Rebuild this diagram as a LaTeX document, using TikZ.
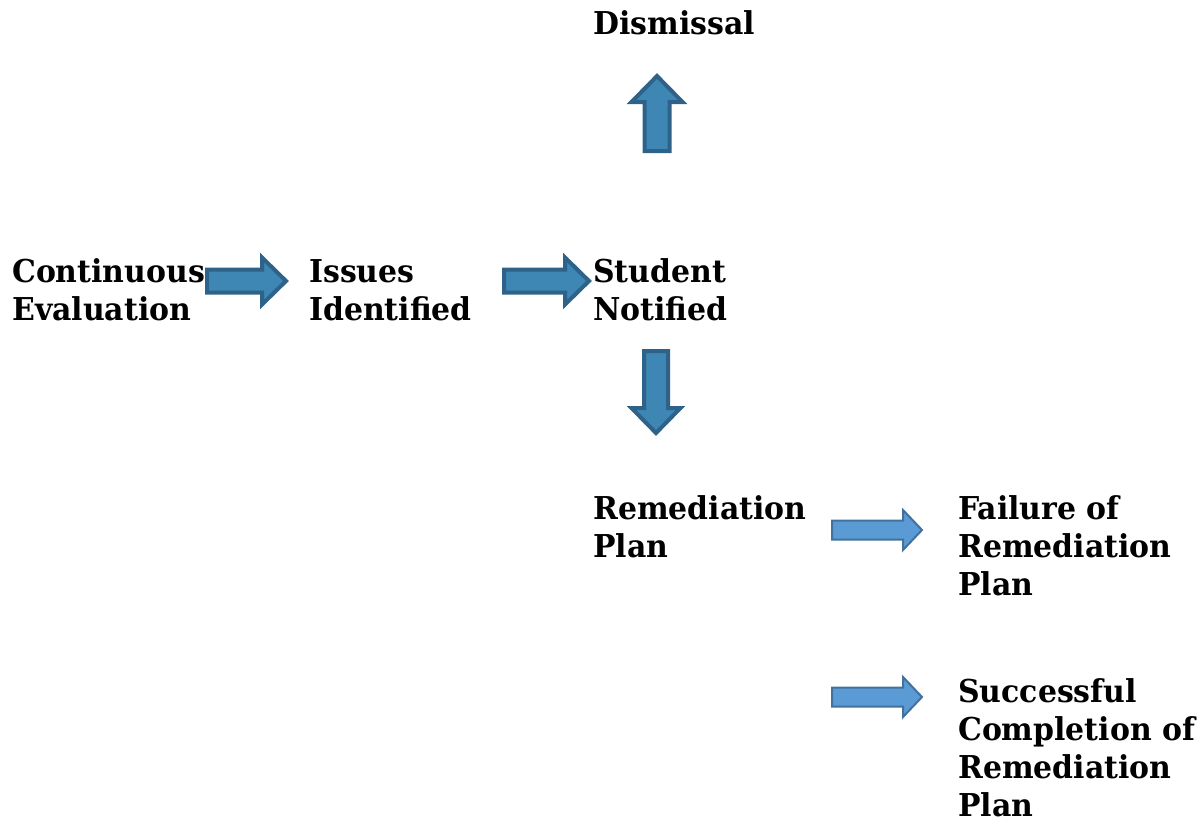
\documentclass[tikz,border=0pt]{standalone}
\usepackage{fontspec}
\setmainfont{DejaVu Serif}[FakeStretch=0.95]
\begin{document}
\begin{tikzpicture}[x=1pt,y=-1pt,
  lbl/.style={anchor=base west,align=left,inner sep=0pt,font=\fontsize{31.5}{37.8}\selectfont\bfseries},
  darkarrow/.style={fill=darkfill,draw=darkline,line width=4pt,line join=miter},
  lightarrow/.style={fill=lightfill,draw=lightline,line width=2pt,line join=miter},
  pics/blockarrow/.style args={#1/#2/#3/#4}{code={
    \path[pic actions] (0,-#2) -- (#3,-#2) -- (#3,-#4) -- (#1,0) -- (#3,#4) -- (#3,#2) -- (0,#2) -- cycle;}}]
\definecolor{darkfill}{HTML}{3E86B4}
\definecolor{darkline}{HTML}{2E6289}
\definecolor{lightfill}{HTML}{5B9BD5}
\definecolor{lightline}{HTML}{41719C}
\useasboundingbox (0,0) rectangle (1202,823);
\node[lbl] (cont) at (12,320.5) {Continuous\\Evaluation};
\node[lbl] (iss) at (309,320.5) {Issues\\Identified};
\node[lbl] (stud) at (593,320.5) {Student\\Notified};
\node[lbl] (dism) at (593,34.5) {Dismissal};
\node[lbl] (rem) at (593,557) {Remediation\\Plan};
\node[lbl] (fail) at (958,595) {Failure of\\Remediation\\Plan};
\node[lbl] (succ) at (958,816) {Successful\\Completion of\\Remediation\\Plan};
\pic[darkarrow] at (207,281) {blockarrow={79/11.5/55/23.5}};
\pic[darkarrow] at (504,281) {blockarrow={85/11.5/61/23.5}};
\pic[darkarrow,rotate=90] at (657,151) {blockarrow={75/12.5/49/25.5}};
\pic[darkarrow,rotate=-90] at (656,351) {blockarrow={82/12/57/24.5}};
\pic[lightarrow] at (832,530) {blockarrow={90/9.5/71/20}};
\pic[lightarrow] at (832,697) {blockarrow={90/9.5/71/20}};
\end{tikzpicture}
\end{document}
